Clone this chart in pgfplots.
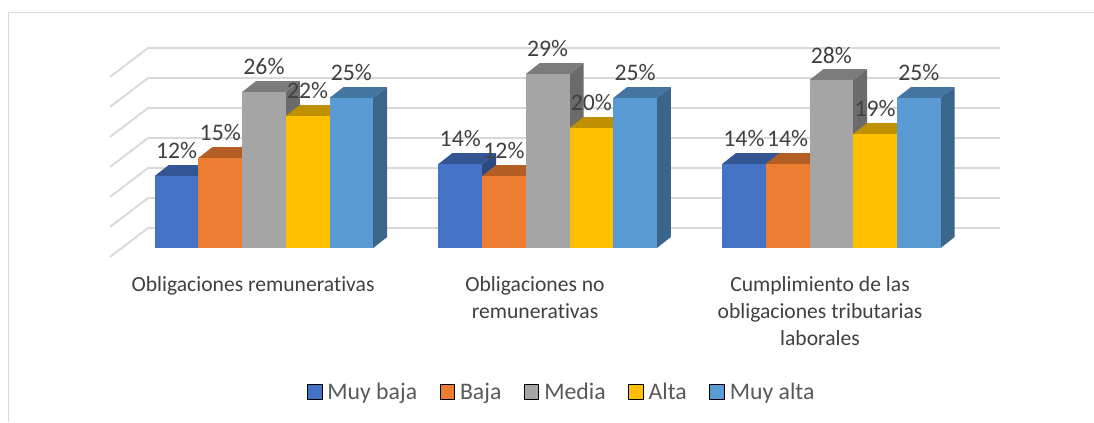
\documentclass[border=0pt]{standalone}
\usepackage{fontspec}
\setmainfont[Ligatures=NoCommon]{Carlito}
\usepackage{pgfplots}
\pgfplotsset{compat=1.18}

\definecolor{gridc}{HTML}{D9D9D9}
\definecolor{labc}{HTML}{404040}
\definecolor{legc}{HTML}{595959}
\definecolor{c1F}{HTML}{4472C4}\definecolor{c1T}{HTML}{335593}\definecolor{c1S}{HTML}{2C4A80}
\definecolor{c2F}{HTML}{ED7D31}\definecolor{c2T}{HTML}{B25E25}\definecolor{c2S}{HTML}{9A5120}
\definecolor{c3F}{HTML}{A5A5A5}\definecolor{c3T}{HTML}{7C7C7C}\definecolor{c3S}{HTML}{6B6B6B}
\definecolor{c4F}{HTML}{FFC000}\definecolor{c4T}{HTML}{BF9000}\definecolor{c4S}{HTML}{A67D00}
\definecolor{c5F}{HTML}{5B9BD5}\definecolor{c5T}{HTML}{4474A0}\definecolor{c5S}{HTML}{3B658A}

% back wall line plus its slanted part on the side wall, v in percent
\newcommand\gridline[1]{%
  \pgfmathsetmacro\ga{#1-1.5}\pgfmathsetmacro\gb{#1+3.333}%
  \addplot[gridc,line width=1.4pt,forget plot] coordinates {(110,\ga)(148,\gb)(1000,\gb)};
}
% one 3d column: left edge, value, colour prefix
\newcommand\column[3]{%
  \pgfmathsetmacro\xc{#1+21.85}\pgfmathsetmacro\xr{#1+43.7}%
  \pgfmathsetmacro\xlb{#1+14}\pgfmathsetmacro\xrb{#1+57.7}%
  \pgfmathsetmacro\vb{#2+1.83}%
  \addplot[fill=#3S,draw=none,forget plot] coordinates {(\xr,0)(\xrb,1.83)(\xrb,\vb)(\xr,#2)} --cycle;
  \addplot[fill=#3T,draw=none,forget plot] coordinates {(#1,#2)(\xr,#2)(\xrb,\vb)(\xlb,\vb)} --cycle;
  \addplot[ybar,bar width=43.7,bar shift=0pt,fill=#3F,draw=none,forget plot] coordinates {(\xc,#2)};
}

\begin{document}
\begin{tikzpicture}
\path (0,0) rectangle (820.5pt,316.5pt);
\begin{axis}[
  width=820.5pt,height=316.5pt,
  at={(0,0)},
  scale only axis,
  xmin=0,xmax=1094,
  ymin=-29,ymax=41.333,
  axis x line=middle,
  axis y line=none,
  x axis line style={draw=none},
  major tick length=0pt,
  ytick=\empty,
  xtick={253,535,820},
  xticklabels={Obligaciones remunerativas,Obligaciones no\\remunerativas,Cumplimiento de las\\obligaciones tributarias\\laborales},
  xticklabel style={align=center,font=\fontsize{16.2}{20}\selectfont,text=labc,anchor=north,yshift=-18pt},
  legend columns=5,
  legend style={
    at={(axis cs:562,-24)},anchor=center,draw=none,fill=none,
    font=\fontsize{17.8}{20}\selectfont,text=legc,
    /tikz/every even column/.append style={column sep=14.8pt},
    /tikz/every odd column/.append style={column sep=2pt},
  },
  legend cell align=left,
  legend image code/.code={\fill[#1] (0pt,-5.5pt) rectangle (11pt,5.5pt);},
  /pgf/number format/assume math mode=true,
]
% chart frame
\addplot[gridc,line width=0.8pt,forget plot] coordinates {(8.5,-29)(8.5,39.25)(1094,39.25)};

\gridline{0}\gridline{5}\gridline{10}\gridline{15}\gridline{20}\gridline{25}\gridline{30}

\column{154.7}{12}{c1}
\column{198.4}{15}{c2}
\column{242.1}{26}{c3}
\column{285.8}{22}{c4}
\column{329.5}{25}{c5}

\column{438.4}{14}{c1}
\column{482.1}{12}{c2}
\column{525.8}{29}{c3}
\column{569.5}{20}{c4}
\column{613.2}{25}{c5}

\column{722.1}{14}{c1}
\column{765.8}{14}{c2}
\column{809.5}{28}{c3}
\column{853.2}{19}{c4}
\column{896.9}{25}{c5}

% data labels go last, they sit on top of the columns
\addplot[draw=none,forget plot,
  point meta=y,
  nodes near coords={\pgfmathprintnumber{\pgfplotspointmeta}\%},
  every node near coord/.append style={anchor=center,yshift=18.75pt,text=labc,font=\fontsize{17.8}{20}\selectfont},
] coordinates {
  (176.55,12)(220.25,15)(263.95,26)(307.65,22)(351.35,25)
  (460.25,14)(503.95,12)(547.65,29)(591.35,20)(635.05,25)
  (743.95,14)(787.65,14)(831.35,28)(875.05,19)(918.75,25)
};

\addlegendimage{fill=c1F}\addlegendentry{Muy baja}
\addlegendimage{fill=c2F}\addlegendentry{Baja}
\addlegendimage{fill=c3F}\addlegendentry{Media}
\addlegendimage{fill=c4F}\addlegendentry{Alta}
\addlegendimage{fill=c5F}\addlegendentry{Muy alta}
\end{axis}
\end{tikzpicture}
\end{document}
